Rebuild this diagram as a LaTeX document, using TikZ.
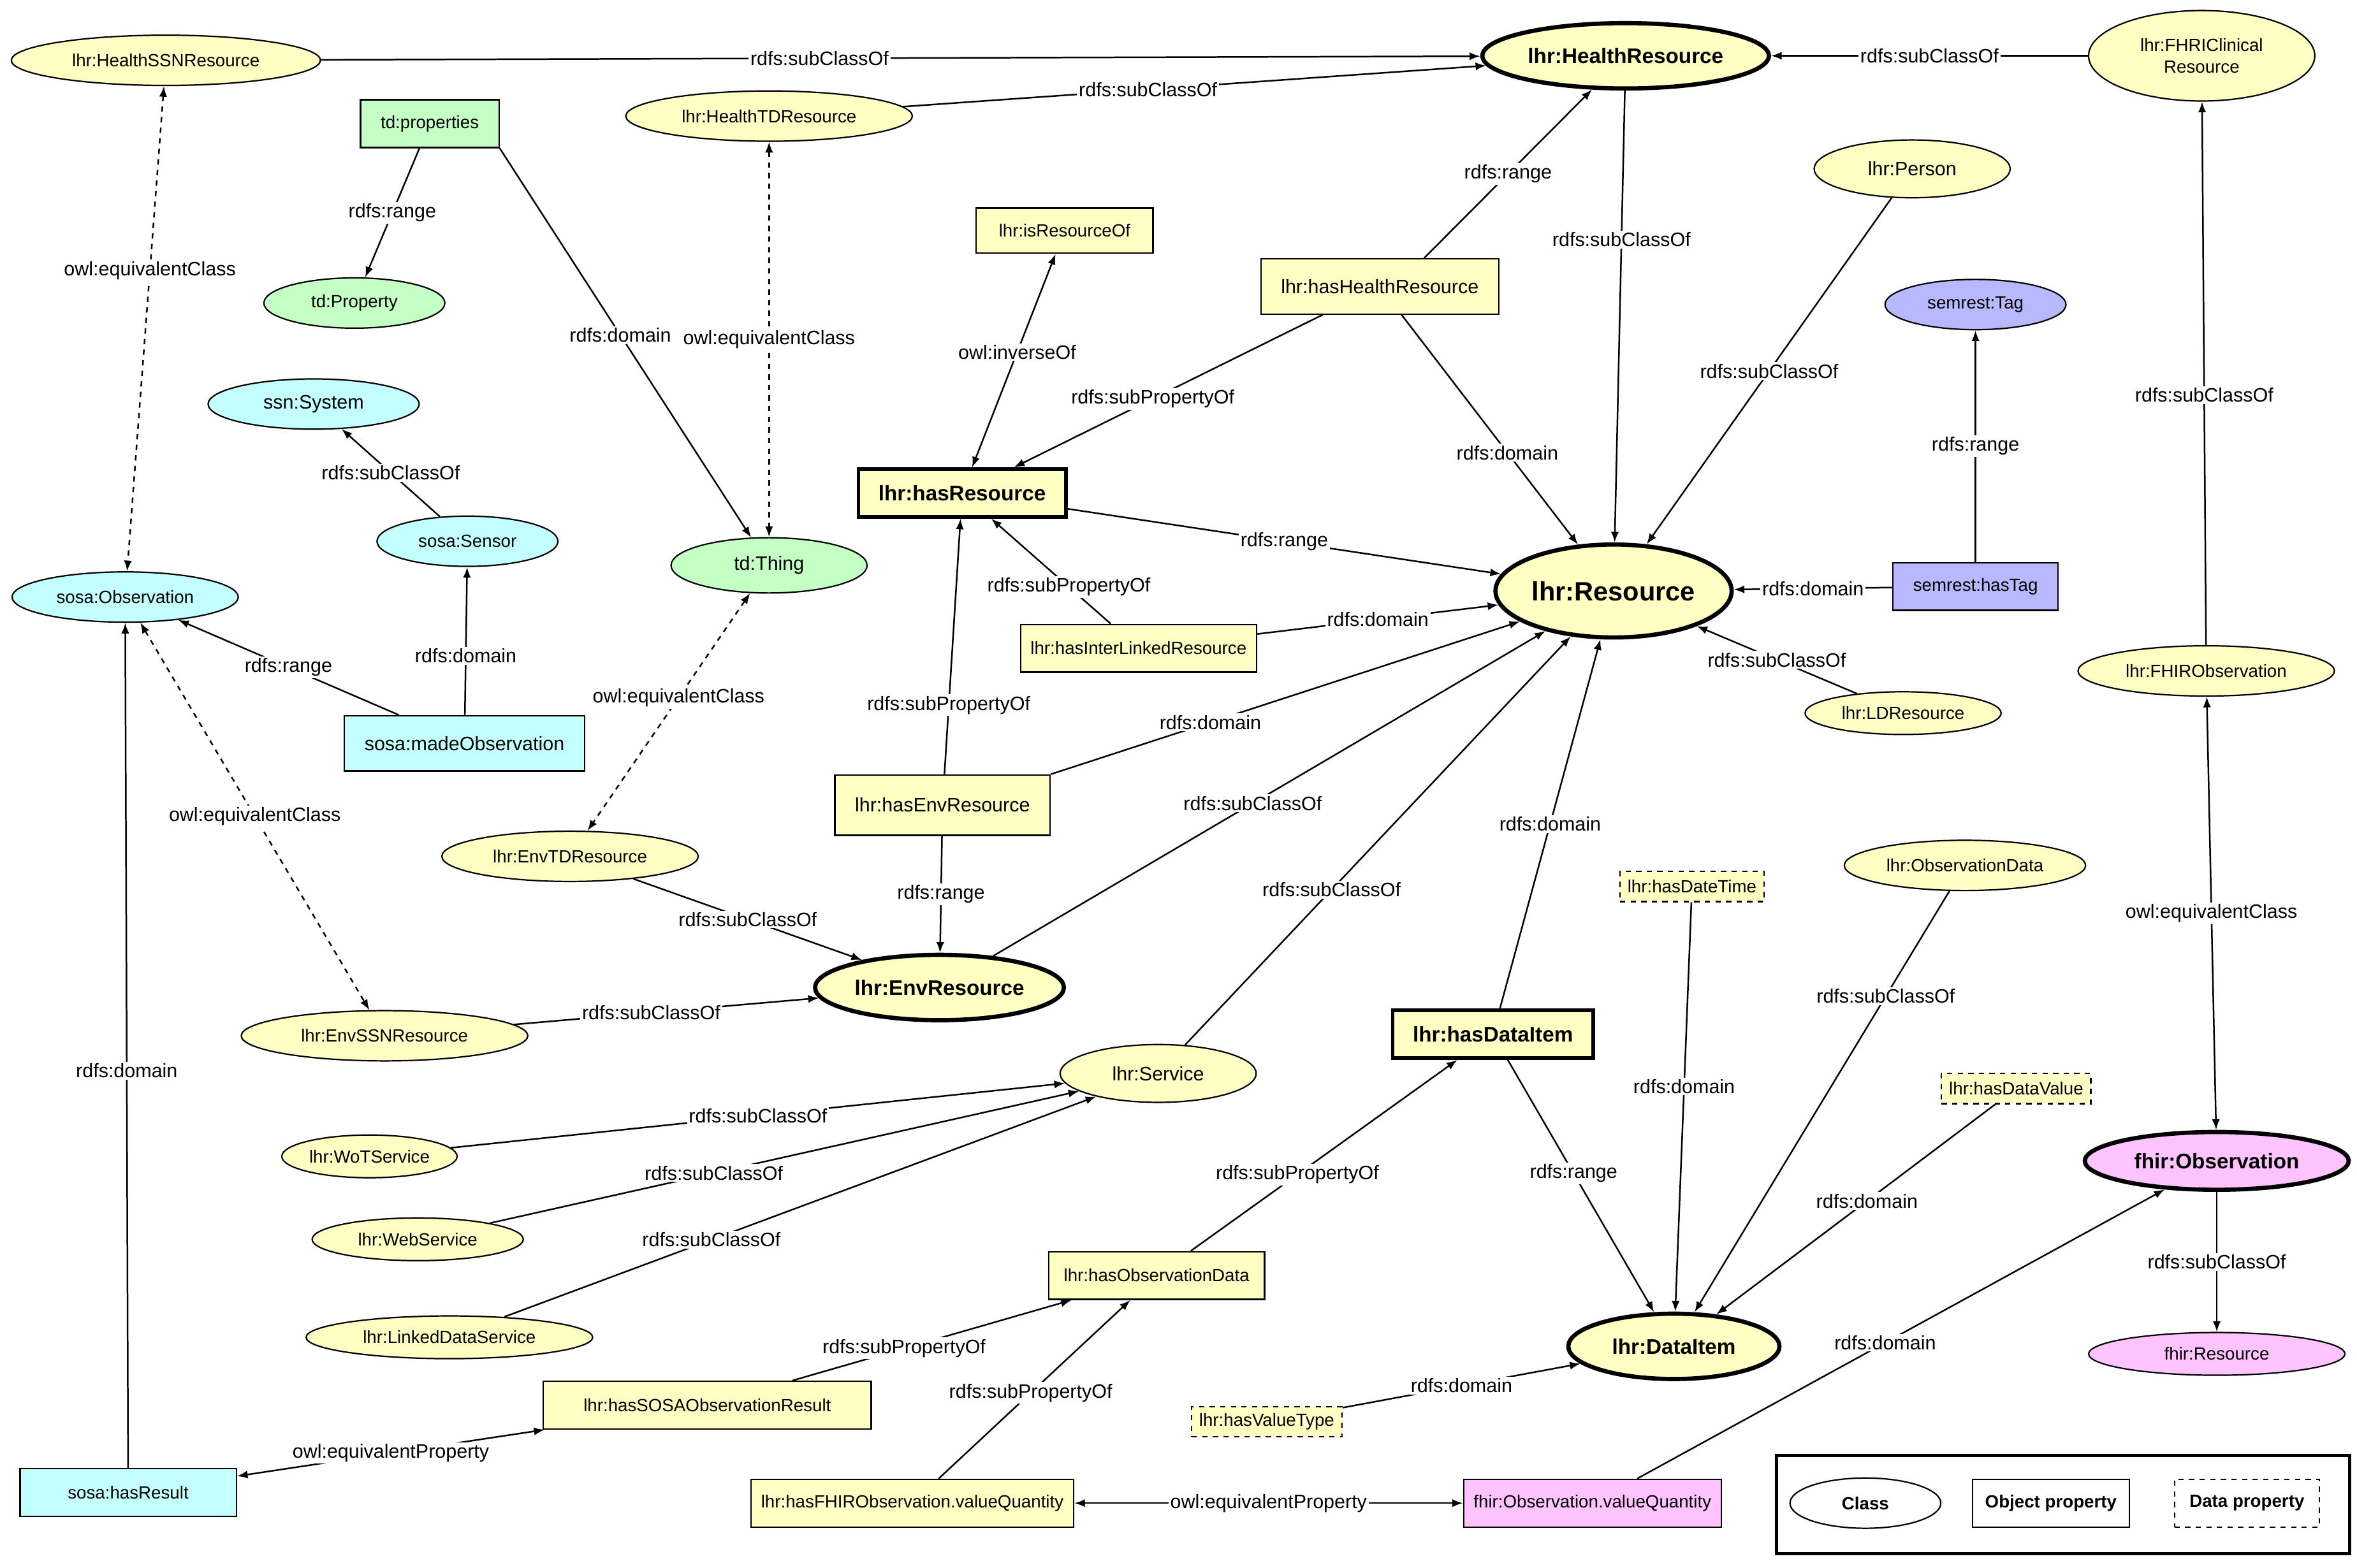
\documentclass[tikz,border=0pt]{standalone}
\usepackage{fontspec}
\setmainfont{Liberation Sans}
\usetikzlibrary{shapes.geometric,arrows.meta}
\definecolor{ylw}{HTML}{FFFFC4}
\definecolor{grn}{HTML}{C4FFC4}
\definecolor{cyn}{HTML}{C4FFFF}
\definecolor{prp}{HTML}{B8B8FF}
\definecolor{pnk}{HTML}{FFC4FF}
\begin{document}
\begin{tikzpicture}[x=0.03cm,y=-0.03cm,
  cls/.style={ellipse,draw,line width=0.8pt,fill=ylw,inner sep=1pt,minimum height=1.0cm,
    font=\fontsize{10}{12}\selectfont},
  key/.style={cls,line width=2.4pt,font=\fontsize{12}{14}\selectfont\bfseries,minimum height=1.3cm},
  prop/.style={rectangle,draw,line width=0.8pt,fill=ylw,inner xsep=0.4cm,minimum height=0.95cm,
    font=\fontsize{10}{12}\selectfont},
  bprop/.style={prop,line width=2pt,font=\fontsize{12}{14}\selectfont\bfseries},
  dprop/.style={prop,dashed,inner xsep=0.15cm,minimum height=0.6cm},
  lbl/.style={fill=white,inner sep=1pt,font=\fontsize{11}{13}\selectfont},
  arr/.style={line width=0.9pt,-{Latex[length=6pt,width=4.5pt]}},
  both/.style={line width=0.9pt,{Latex[length=6pt,width=4.5pt]}-{Latex[length=6pt,width=4.5pt]}}]
\useasboundingbox (0,0) rectangle (1563,1040);

% classes
\node[cls,minimum width=6.15cm] (hssn) at (110,40) {lhr:HealthSSNResource};
\node[key,minimum width=5.7cm,minimum height=1.3cm] (hres) at (1078,37) {lhr:HealthResource};
\node[cls,minimum width=4.5cm,minimum height=1.8cm,align=center] (fhrc) at (1460,37) {lhr:FHRIClinical\\Resource};
\node[cls,minimum width=5.7cm] (htd) at (510,77) {lhr:HealthTDResource};
\node[cls,fill=grn,minimum width=3.6cm] (tdProperty) at (235,201) {td:Property};
\node[cls,minimum width=3.9cm,minimum height=1.15cm,font=\fontsize{11}{13}\selectfont] (person) at (1268,112) {lhr:Person};
\node[cls,fill=prp,minimum width=3.6cm] (tag) at (1310,202) {semrest:Tag};
\node[cls,fill=cyn,minimum width=4.2cm,font=\fontsize{11}{13}\selectfont] (system) at (208,268) {ssn:System};
\node[cls,fill=cyn,minimum width=3.6cm] (sensor) at (310,359) {sosa:Sensor};
\node[cls,fill=grn,minimum width=3.9cm,minimum height=1.1cm,font=\fontsize{11}{13}\selectfont] (thing) at (510,375) {td:Thing};
\node[cls,fill=cyn,minimum width=4.5cm] (sobs) at (83,396) {sosa:Observation};
\node[key,minimum width=4.5cm,minimum height=1.85cm,font=\fontsize{15}{17}\selectfont\bfseries] (res) at (1070,392) {lhr:Resource};
\node[cls,minimum width=5.1cm] (fhirobs) at (1463,445) {lhr:FHIRObservation};
\node[cls,minimum width=3.9cm,minimum height=0.85cm] (ldres) at (1262,473) {lhr:LDResource};
\node[cls,minimum width=5.1cm] (envtd) at (378,568) {lhr:EnvTDResource};
\node[cls,minimum width=4.8cm] (obsdata) at (1303,574) {lhr:ObservationData};
\node[key,minimum width=4.95cm] (envres) at (623,655) {lhr:EnvResource};
\node[cls,minimum width=5.7cm] (envssn) at (255,687) {lhr:EnvSSNResource};
\node[cls,minimum width=3.9cm,minimum height=1.15cm,font=\fontsize{11}{13}\selectfont] (service) at (768,712) {lhr:Service};
\node[cls,minimum width=3.3cm,minimum height=0.85cm] (wot) at (245,767) {lhr:WoTService};
\node[key,fill=pnk,minimum width=5.25cm,minimum height=1.15cm] (fobs) at (1470,770) {fhir:Observation};
\node[cls,minimum width=4.2cm,minimum height=0.85cm] (web) at (277,822) {lhr:WebService};
\node[cls,minimum width=5.7cm,minimum height=0.85cm] (lds) at (298,887) {lhr:LinkedDataService};
\node[key,minimum width=4.2cm] (dataitem) at (1110,893) {lhr:DataItem};
\node[cls,fill=pnk,minimum width=5.1cm,minimum height=0.85cm] (fres) at (1470,898) {fhir:Resource};

% properties
\node[prop,fill=grn] (tdprop) at (285,82) {td:properties};
\node[prop,inner xsep=0.45cm,minimum height=0.9cm] (isro) at (706,153) {lhr:isResourceOf};
\node[prop,font=\fontsize{11}{13}\selectfont,minimum height=1.1cm] (hhr) at (915,190) {lhr:hasHealthResource};
\node[bprop] (hasres) at (638,327) {lhr:hasResource};
\node[prop,fill=prp] (hastag) at (1310,389) {semrest:hasTag};
\node[prop,inner xsep=0.2cm] (hilr) at (755,430) {lhr:hasInterLinkedResource};
\node[prop,fill=cyn,font=\fontsize{11}{13}\selectfont,minimum height=1.1cm] (made) at (308,493) {sosa:madeObservation};
\node[prop,font=\fontsize{11}{13}\selectfont,minimum height=1.2cm] (hasenv) at (625,534) {lhr:hasEnvResource};
\node[dprop] (hdt) at (1122,588) {lhr:hasDateTime};
\node[bprop] (hdi) at (990,686) {lhr:hasDataItem};
\node[dprop] (hdv) at (1337,722) {lhr:hasDataValue};
\node[prop,inner xsep=0.3cm] (hod) at (767,846) {lhr:hasObservationData};
\node[prop,inner xsep=0.8cm] (hsosa) at (469,932) {lhr:hasSOSAObservationResult};
\node[dprop] (hvt) at (840,943) {lhr:hasValueType};
\node[prop,fill=cyn,inner xsep=0.95cm] (hasresult) at (85,990) {sosa:hasResult};
\node[prop,inner xsep=0.2cm] (hfvq) at (605,997) {lhr:hasFHIRObservation.valueQuantity};
\node[prop,fill=pnk,inner xsep=0.2cm] (fvq) at (1056,997) {fhir:Observation.valueQuantity};

% legend
\node[draw,line width=1.8pt,minimum width=11.4cm,minimum height=1.95cm] (legend) at (1368,998) {};
\node[cls,fill=white,minimum width=3.0cm,font=\fontsize{10}{12}\selectfont\bfseries] (lcls) at (1237,997) {Class};
\node[prop,fill=white,inner xsep=0.25cm,font=\fontsize{10}{12}\selectfont\bfseries] (lprop) at (1360,997) {Object property};
\node[prop,fill=white,dashed,inner xsep=0.3cm,font=\fontsize{10}{12}\selectfont\bfseries] (ldprop) at (1490,997) {Data property};

% connectors
\draw[arr] (hssn) -- node[lbl,pos=0.43]{rdfs:subClassOf} (hres);
\draw[arr] (htd) -- node[lbl,pos=0.42]{rdfs:subClassOf} (hres);
\draw[arr] (fhrc) -- node[lbl]{rdfs:subClassOf} (hres);
\draw[both,dashed] (hssn) -- node[lbl,pos=0.38]{owl:equivalentClass} (sobs);
\draw[arr] (tdprop) -- node[lbl]{rdfs:range} (tdProperty);
\draw[arr] (tdprop.south east) -- node[lbl,pos=0.48]{rdfs:domain} (thing);
\draw[both,dashed] (htd) -- node[lbl]{owl:equivalentClass} (thing);
\draw[arr] (hhr.north east) ++(-50,0) -- node[lbl]{rdfs:range} (hres);
\draw[arr] (hhr) -- node[lbl,pos=0.55]{rdfs:subPropertyOf} (hasres);
\draw[arr] (hhr) -- node[lbl,pos=0.6]{rdfs:domain} (res);
\draw[arr] (hres) -- node[lbl,pos=0.33]{rdfs:subClassOf} (res);
\draw[arr] (person) -- node[lbl]{rdfs:subClassOf} (res);
\draw[arr] (hastag) -- node[lbl]{rdfs:range} (tag);
\draw[arr] (hastag) -- node[lbl]{rdfs:domain} (res);
\draw[both] (hasres) -- node[lbl,pos=0.54]{owl:inverseOf} (isro);
\draw[arr] (hasres) -- node[lbl]{rdfs:range} (res);
\draw[arr] (hilr) -- node[lbl,pos=0.35]{rdfs:subPropertyOf} (hasres);
\draw[arr] (hilr) -- node[lbl]{rdfs:domain} (res);
\draw[arr] (ldres) -- node[lbl]{rdfs:subClassOf} (res);
\draw[arr] (hasenv) -- node[lbl,pos=0.27]{rdfs:subPropertyOf} (hasres);
\draw[arr] (hasenv.north east) -- node[lbl,pos=0.34]{rdfs:domain} (res);
\draw[arr] (hasenv) -- node[lbl]{rdfs:range} (envres);
\draw[arr] (envres) -- node[lbl,pos=0.47]{rdfs:subClassOf} (res);
\draw[arr] (fhirobs) -- node[lbl,pos=0.46]{rdfs:subClassOf} (fhrc);
\draw[both] (fhirobs) -- node[lbl]{owl:equivalentClass} (fobs);
\draw[arr] (fobs) -- node[lbl]{rdfs:subClassOf} (fres);
\draw[arr] (sensor) -- node[lbl]{rdfs:subClassOf} (system);
\draw[arr] (made) -- node[lbl,pos=0.4]{rdfs:domain} (sensor);
\draw[arr] (made) -- node[lbl]{rdfs:range} (sobs);
\draw[both,dashed] (thing) -- node[lbl,pos=0.44]{owl:equivalentClass} (envtd);
\draw[both,dashed] (sobs) -- node[lbl]{owl:equivalentClass} (envssn);
\draw[arr] (envtd) -- node[lbl]{rdfs:subClassOf} (envres);
\draw[arr] (envssn) -- node[lbl,pos=0.45]{rdfs:subClassOf} (envres);
\draw[arr] (service) -- node[lbl,pos=0.38]{rdfs:subClassOf} (res);
\draw[arr] (hdi) -- node[lbl]{rdfs:domain} (res);
\draw[arr] (hdi) -- node[lbl,pos=0.45]{rdfs:range} (dataitem);
\draw[arr] (hdt) -- node[lbl,pos=0.45]{rdfs:domain} (dataitem);
\draw[arr] (obsdata) -- node[lbl,pos=0.25]{rdfs:subClassOf} (dataitem);
\draw[arr] (hdv) -- node[lbl,pos=0.46]{rdfs:domain} (dataitem);
\draw[arr] (wot) -- node[lbl]{rdfs:subClassOf} (service);
\draw[arr] (web) -- node[lbl,pos=0.38]{rdfs:subClassOf} (service);
\draw[arr] (lds) -- node[lbl,pos=0.35]{rdfs:subClassOf} (service);
\draw[arr] (hod) -- node[lbl,pos=0.4]{rdfs:subPropertyOf} (hdi);
\draw[arr] (hsosa) -- node[lbl,pos=0.4]{rdfs:subPropertyOf} (hod);
\draw[arr] (hfvq) -- node[lbl,pos=0.48]{rdfs:subPropertyOf} (hod);
\draw[arr] (hvt) -- node[lbl]{rdfs:domain} (dataitem);
\draw[arr] (fvq) -- node[lbl,pos=0.47]{rdfs:domain} (fobs);
\draw[both] (hfvq) -- node[lbl]{owl:equivalentProperty} (fvq);
\draw[both] (hasresult) -- node[lbl]{owl:equivalentProperty} (hsosa);
\draw[arr] (hasresult) -- node[lbl,pos=0.47]{rdfs:domain} (sobs);
\end{tikzpicture}
\end{document}
